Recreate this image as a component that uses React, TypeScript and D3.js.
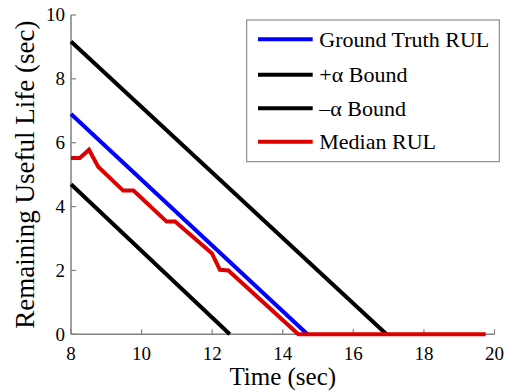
import * as d3 from 'd3';

// values
const gtTime = [8, 14.7];
const gtRul = [6.9, 0];
const plusTime = [8, 16.94];
const plusRul = [9.17, 0];
const minusTime = [8, 12.5];
const minusRul = [4.7, 0];
const medTime = [8, 8.25, 8.51, 8.77, 9.48, 9.77, 10.71, 10.95, 11.99, 12.22, 12.46, 14.44, 19.75];
const medRul = [5.52, 5.52, 5.78, 5.25, 4.5, 4.5, 3.53, 3.53, 2.54, 2.02, 2.0, 0, 0];

const xTicks = [8, 10, 12, 14, 16, 18, 20];
const yTicks = [0, 2, 4, 6, 8, 10];

const legendItems = [
  { label: 'Ground Truth RUL', color: '#0000ff' },
  { label: '+\u03b1 Bound', color: '#000000' },
  { label: '\u2013\u03b1 Bound', color: '#000000' },
  { label: 'Median RUL', color: '#dd0000' },
];

const W = 505;
const H = 392;
const margin = { top: 15, right: 10.5, bottom: 57.7, left: 71 };
const font = '"Liberation Serif", "Times New Roman", serif';
const axisColor = '#808080';

const App = () => {
  const x = d3.scaleLinear().domain([8, 20]).range([margin.left, W - margin.right]);
  const y = d3.scaleLinear().domain([0, 10]).range([H - margin.bottom, margin.top]);

  const line = d3.line<[number, number]>().x(d => x(d[0])).y(d => y(d[1]));
  const series = [
    { t: gtTime, v: gtRul, color: '#0000ff' },
    { t: plusTime, v: plusRul, color: '#000000' },
    { t: minusTime, v: minusRul, color: '#000000' },
    { t: medTime, v: medRul, color: '#dd0000' },
  ];

  const x0 = x(8), x1 = x(20), y0 = y(0), y1 = y(10);

  const lg = { x: 246.7, y: 20, w: 252.6, h: 141.7, rowY: [39.3, 74.7, 108.3, 141.7] };

  return (
    <svg width={W} height={H} style={{ position: 'absolute', left: 0, top: 0, background: '#fff' }}>
      {/* axes */}
      <line x1={x0} x2={x0} y1={y1} y2={y0} stroke={axisColor} strokeWidth={1.5} />
      <line x1={x0} x2={x1} y1={y0} y2={y0} stroke={axisColor} strokeWidth={1.5} />
      {yTicks.map(t => (
        <g key={'y' + t}>
          <line x1={x0} x2={x0 + 5} y1={y(t)} y2={y(t)} stroke={axisColor} strokeWidth={1.2} />
          <text x={x0 - 6} y={y(t)} dy="0.34em" textAnchor="end" fontFamily={font} fontSize={19} fill="#000">
            {t}
          </text>
        </g>
      ))}
      {xTicks.map(t => (
        <g key={'x' + t}>
          <line x1={x(t)} x2={x(t)} y1={y0} y2={y0 - 5} stroke={axisColor} strokeWidth={1.2} />
          <text x={x(t)} y={360} textAnchor="middle" fontFamily={font} fontSize={19} fill="#000">
            {t}
          </text>
        </g>
      ))}

      {/* series */}
      {series.map((s, i) => (
        <path
          key={i}
          d={line(s.t.map((t, j) => [t, s.v[j]] as [number, number])) || ''}
          fill="none"
          stroke={s.color}
          strokeWidth={4}
          strokeLinejoin="miter"
        />
      ))}

      {/* labels */}
      <text x={(x0 + x1) / 2} y={385} textAnchor="middle" fontFamily={font} fontSize={25} fill="#000">
        Time (sec)
      </text>
      <text
        transform={`translate(34,${(y0 + y1) / 2}) rotate(-90)`}
        textAnchor="middle"
        fontFamily={font}
        fontSize={27}
        fill="#000"
      >
        Remaining Useful Life (sec)
      </text>

      {/* legend */}
      <rect x={lg.x} y={lg.y} width={lg.w} height={lg.h} fill="#fff" stroke="#777" strokeWidth={1} />
      {legendItems.map((d, i) => (
        <g key={d.label}>
          <line x1={258} x2={312.7} y1={lg.rowY[i]} y2={lg.rowY[i]} stroke={d.color} strokeWidth={4} />
          <text x={319.3} y={lg.rowY[i]} dy="0.34em" fontFamily={font} fontSize={22} fill="#000">
            {d.label}
          </text>
        </g>
      ))}
    </svg>
  );
};

export default App;
